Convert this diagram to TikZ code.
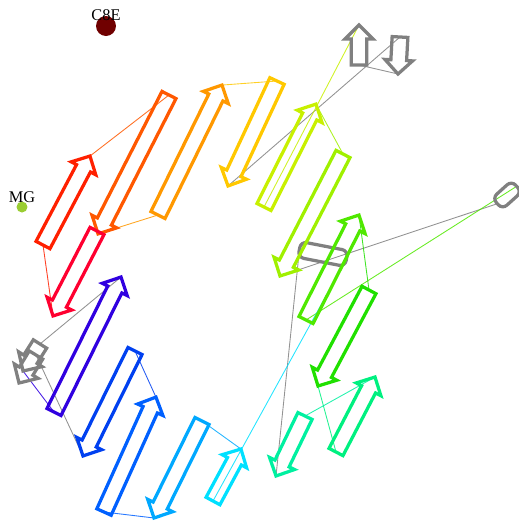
\documentclass[tikz,border=0pt]{standalone}
\usepackage{fontspec}
\setmainfont{Liberation Serif}
\usetikzlibrary{shapes.arrows,calc,backgrounds}

\definecolor{cs16}{HTML}{FF0030}
\definecolor{cs1}{HTML}{FF2000}
\definecolor{cs2}{HTML}{FF5800}
\definecolor{cs3}{HTML}{FF9800}
\definecolor{cs4}{HTML}{FFC800}
\definecolor{cs5}{HTML}{C8F000}
\definecolor{cs6}{HTML}{A0F000}
\definecolor{cs7}{HTML}{50E800}
\definecolor{cs8}{HTML}{20E000}
\definecolor{cs9}{HTML}{00F080}
\definecolor{cs10}{HTML}{00F0A0}
\definecolor{cs11}{HTML}{00E0FF}
\definecolor{cs12}{HTML}{00A8FF}
\definecolor{cs13}{HTML}{0060FF}
\definecolor{cs14}{HTML}{0040F0}
\definecolor{cs15}{HTML}{3000E0}
\definecolor{cgray}{HTML}{808080}
\definecolor{cligand}{HTML}{700000}
\definecolor{cmg}{HTML}{9ACD32}

% strand from its N end (tail) to its C end (tip)
\newcommand{\strand}[4]{%
  \path let \p1=#3, \p2=#4,
    \n1={atan2(\y2-\y1,\x2-\x1)}, \n2={veclen(\x2-\x1,\y2-\y1)} in
    node[strand, draw=#2, rotate=\n1, minimum height=\n2, anchor=tail] (#1) at (\p1) {};}

\begin{document}
\begin{tikzpicture}[
    x=0.02cm, y=-0.02cm,
    strand/.style={single arrow, single arrow head extend=0.12cm,
                inner xsep=0pt, inner ysep=0.125cm, minimum width=0pt,
                outer sep=0pt, line width=0.065cm},
    helix/.style={draw=cgray, rectangle, rounded corners=0.12cm,
                outer sep=0pt, line width=0.065cm},
    link/.style={line width=0.5pt, draw opacity=0.85},
    lbl/.style={font=\fontsize{9.3}{10}\selectfont, inner sep=0pt}
]
\useasboundingbox (0,0) rectangle (519,525);

% ligands
\node[circle, fill=cligand, minimum size=0.4cm, inner sep=0pt] (c8e) at (106,26) {};
\node[lbl, anchor=base] (c8elbl) at (106,20) {C8E};
\node[circle, fill=cmg, minimum size=0.22cm, inner sep=0pt] (mg) at (22,207) {};
\node[lbl, anchor=base] (mglbl) at (22,202) {MG};

% helices
\node[helix, rotate=-11, minimum width=0.96cm, minimum height=0.32cm] (h1) at (323,254) {};
\node[helix, rotate=42, minimum width=0.52cm, minimum height=0.3cm] (h2) at (507,195) {};

% grey strands
\strand{gu}{cgray}{(359,65)}{(359,25)}
\strand{gd}{cgray}{(400,37)}{(398,74)}
\strand{ga}{cgray}{(40,344)}{(23,371)}
\strand{gb}{cgray}{(36,355)}{(19,383)}

% sheet
\strand{s1}{cs1}{(43,245)}{(90,156)}
\strand{s2}{cs2}{(169,95)}{(98,234)}
\strand{s3}{cs3}{(158,215)}{(222,85)}
\strand{s4}{cs4}{(277,81)}{(228,186)}
\strand{s5}{cs5}{(264,207)}{(316,104)}
\strand{s6}{cs6}{(343,154)}{(280,276)}
\strand{s7}{cs7}{(306,320)}{(359,215)}
\strand{s8}{cs8}{(369,290)}{(318,386)}
\strand{s9}{cs9}{(336,452)}{(375,377)}
\strand{s10}{cs10}{(305,416)}{(276,476)}
\strand{s11}{cs11}{(213,501)}{(241,449)}
\strand{s12}{cs12}{(202,421)}{(154,518)}
\strand{s13}{cs13}{(104,512)}{(156,397)}
\strand{s14}{cs14}{(135,351)}{(83,456)}
\strand{s15}{cs15}{(54,412)}{(121,277)}
\strand{s16}{cs16}{(97,231)}{(53,316)}

% loops
\begin{scope}[on background layer]
\draw[link, cs1] (s16.tip) -- (s1.tail);
\draw[link, cs2] (s1.tip) -- (s2.tail);
\draw[link, cs3] (s2.tip) -- (s3.tail);
\draw[link, cs4] (s3.tip) -- (s4.tail);
\draw[link, cgray] (s4.tip) -- (gd.tail);
\draw[link, cgray] (gd.tip) -- (gu.tail);
\draw[link, cs5] (gu.tip) -- (s5.tail);
\draw[link, cs6] (s5.tip) -- (s6.tail);
\draw[link, cgray] (s6.tip) -- (h2.west);
\draw[link, cs7] (h2.east) -- (s7.tail);
\draw[link, cs8] (s7.tip) -- (s8.tail);
\draw[link, cs9] (s8.tip) -- (s9.tail);
\draw[link, cs10] (s9.tip) -- (s10.tail);
\draw[link, cgray] (s10.tip) -- (h1.west);
\draw[link, cs11] (h1.east) -- (s11.tail);
\draw[link, cs12] (s11.tip) -- (s12.tail);
\draw[link, cs13] (s12.tip) -- (s13.tail);
\draw[link, cs14] (s13.tip) -- (s14.tail);
\draw[link, cgray] (s14.tip) -- (gb.tail);
\draw[link, cs15] (ga.tip) -- (s15.tail);
\draw[link, cgray] (s15.tip) -- (ga.tail);
\end{scope}

\end{tikzpicture}
\end{document}
